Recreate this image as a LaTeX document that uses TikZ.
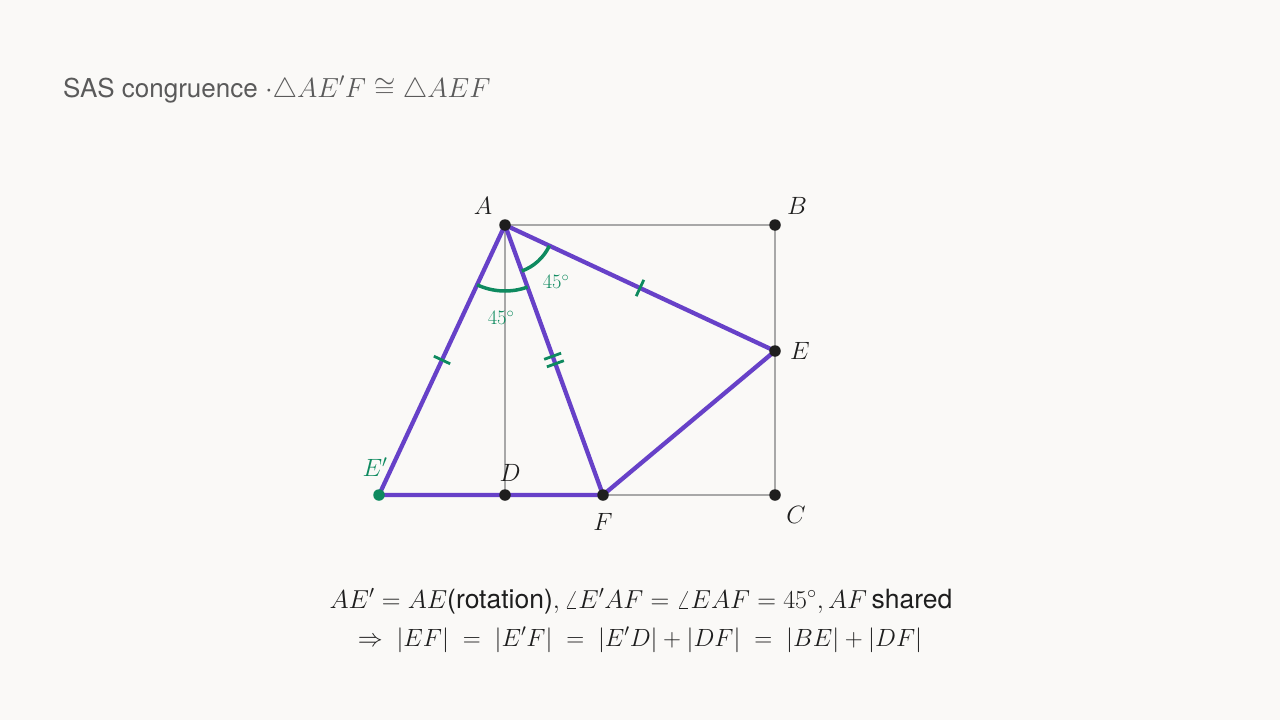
\RequirePackage{fix-cm}
\documentclass[tikz,border=0pt]{standalone}
\usepackage{fontspec}
\setsansfont{TeX Gyre Heros}
\usetikzlibrary{calc}
\definecolor{bg}{HTML}{FAF9F7}
\definecolor{purp}{HTML}{6741C8}
\definecolor{grn}{HTML}{0E8A5F}
\definecolor{gline}{HTML}{A8A8A8}
\definecolor{ttl}{HTML}{5A5A5A}
\definecolor{ink}{HTML}{1E1E1E}
\tikzset{
  frame/.style={draw=gline, line width=1.5pt},
  seg/.style={draw=purp, line width=4.3pt, line cap=round, line join=round},
  tickmark/.style={draw=grn, line width=2.8pt},
  anglearc/.style={draw=grn, line width=3.5pt},
  dot/.style={circle, fill=ink, inner sep=0pt, minimum size=11.5pt},
  gdot/.style={circle, fill=grn, inner sep=0pt, minimum size=11.5pt},
  ptlabel/.style={text=ink, font=\fontsize{25}{28}\selectfont},
  anglabel/.style={text=grn, font=\fontsize{20.5}{23}\selectfont},
}
\begin{document}
\begin{tikzpicture}[x=1pt,y=-1pt]
\path[fill=bg] (0,0) rectangle (1280,720);
\useasboundingbox (0,0) rectangle (1280,720);
% points
\coordinate (A) at (505,225);
\coordinate (B) at (775,225);
\coordinate (C) at (775,495);
\coordinate (D) at (505,495);
\coordinate (E) at (775,351);
\coordinate (F) at (603,495);
\coordinate (Ep) at (379,495);
% title
\node[anchor=base west, inner sep=0pt, text=ttl, font=\fontsize{26}{32}\selectfont] (title) at (63,97)
  {\sffamily SAS congruence {\fontsize{27.6}{32}\selectfont$\cdot\triangle AE'F\cong\triangle AEF$}};
% square
\draw[frame] (A) -- (B) -- (C) -- (D) -- cycle;
\draw[frame] (D) -- (F);
% purple segments
\draw[seg] (Ep) -- (A) -- (F) -- cycle;
\draw[seg] (A) -- (E) -- (F);
% angle arcs (y axis points down, so angles are mirrored)
\draw[anglearc] ($(A)+(115:66)$) arc[start angle=115, end angle=70, radius=66];
\draw[anglearc] ($(A)+(70:49)$) arc[start angle=70, end angle=25, radius=49];
% ticks
\coordinate (m1) at ($(A)!0.5!(Ep)$);
\draw[tickmark] ($(m1)!9pt!90:(A)$) -- ($(m1)!9pt!-90:(A)$);
\coordinate (m2) at ($(A)!0.5!(E)$);
\draw[tickmark] ($(m2)!9pt!90:(A)$) -- ($(m2)!9pt!-90:(A)$);
\coordinate (m3a) at ($(A)!0.5!(F)!4pt!(A)$);
\coordinate (m3b) at ($(A)!0.5!(F)!-4pt!(A)$);
\draw[tickmark] ($(m3a)!9pt!90:(A)$) -- ($(m3a)!9pt!-90:(A)$);
\draw[tickmark] ($(m3b)!9pt!90:(A)$) -- ($(m3b)!9pt!-90:(A)$);
% dots
\node[dot] (nA) at (A) {};
\node[dot] (nB) at (B) {};
\node[dot] (nC) at (C) {};
\node[dot] (nD) at (D) {};
\node[dot] (nE) at (E) {};
\node[dot] (nF) at (F) {};
\node[gdot] (nEp) at (Ep) {};
% labels
\node[ptlabel] (lA) at (483,206) {$A$};
\node[ptlabel] (lB) at (797,206) {$B$};
\node[ptlabel] (lE) at (800,351) {$E$};
\node[ptlabel] (lC) at (796,515) {$C$};
\node[ptlabel] (lD) at (510,473) {$D$};
\node[ptlabel] (lF) at (603,522) {$F$};
\node[ptlabel, text=grn] (lEp) at (375,467) {$E'$};
\node[anglabel] (a1) at (556,282) {$45^\circ$};
\node[anglabel] (a2) at (501,318) {$45^\circ$};
% bottom text
\node[anchor=base, inner sep=0pt, text=ink, font=\fontsize{26}{30}\selectfont] (eq1) at (641,608)
  {$AE'=AE${\fontsize{26.5}{30}\selectfont\sffamily(rotation)}$,\angle E'AF=\angle EAF=45^\circ,AF$\,{\fontsize{26.5}{30}\selectfont\sffamily shared}};
\node[anchor=base, inner sep=0pt, text=ink, font=\fontsize{24.9}{30}\selectfont] (eq2) at (640,646)
  {$\Rightarrow\;|EF|\;=\;|E'F|\;=\;|E'D|+|DF|\;=\;|BE|+|DF|$};
\end{tikzpicture}
\end{document}
